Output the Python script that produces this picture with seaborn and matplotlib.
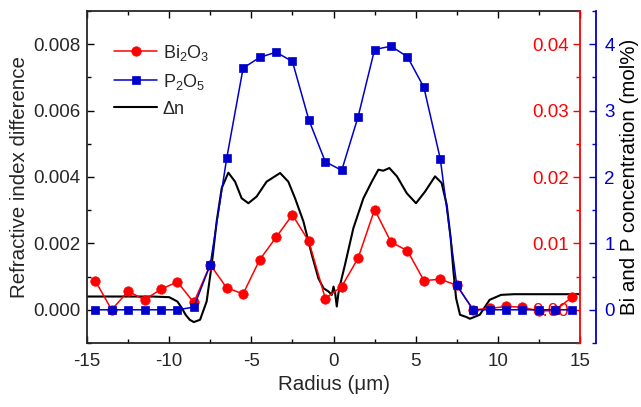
import matplotlib
matplotlib.use("Agg")
import matplotlib.pyplot as plt
from matplotlib.ticker import MultipleLocator, StrMethodFormatter
import seaborn as sns

# ---- data ----
radius_pts = [-14.5, -13.5, -12.5, -11.5, -10.5, -9.5, -8.5, -7.5, -6.5, -5.5,
              -4.5, -3.5, -2.5, -1.5, -0.5, 0.5, 1.5, 2.5, 3.5, 4.5,
              5.5, 6.5, 7.5, 8.5, 9.5, 10.5, 11.5, 12.5, 13.5, 14.5]
bi2o3 = [0.0044, 0.0000, 0.0028, 0.0015, 0.0031, 0.0042, 0.0011, 0.0068, 0.0033, 0.0024,
         0.0075, 0.0109, 0.0143, 0.0103, 0.0017, 0.0035, 0.0078, 0.0151, 0.0102, 0.0089,
         0.0044, 0.0046, 0.0037, 0.0000, 0.0002, 0.0005, 0.0004, -0.0002, -0.0001, 0.0019]
p2o5 = [0.0, 0.0, 0.0, 0.0, 0.0, 0.0, 0.04, 0.68, 2.28, 3.64,
        3.80, 3.88, 3.74, 2.86, 2.23, 2.10, 2.91, 3.92, 3.97, 3.81,
        3.35, 2.27, 0.37, 0.0, 0.0, 0.0, 0.0, 0.0, 0.0, 0.0]

radius_dn = [-15.0, -11.0, -10.0, -9.5, -9.25, -9.0, -8.75, -8.5, -8.12, -7.72,
             -7.41, -7.11, -6.80, -6.40, -5.99, -5.59, -5.18, -4.68, -4.07, -3.25,
             -2.75, -2.34, -1.83, -1.32, -0.92, -0.61, -0.30, -0.10, 0.00, 0.10,
             0.20, 0.30, 0.40, 0.70, 1.21, 1.82, 2.33, 2.73, 3.03, 3.40,
             3.86, 4.46, 5.02, 5.57, 6.18, 6.58, 6.89, 7.13, 7.30, 7.46,
             7.70, 8.10, 8.30, 8.90, 9.50, 10.20, 11.00, 15.00]
delta_n = [0.00040, 0.00040, 0.00038, 0.00025, 0.00007, -0.00015, -0.00030, -0.00037, -0.00030, 0.00025,
           0.00136, 0.00266, 0.00367, 0.00413, 0.00386, 0.00336, 0.00321, 0.00341, 0.00386, 0.00412,
           0.00386, 0.00336, 0.00266, 0.00166, 0.00095, 0.00065, 0.00055, 0.00045, 0.00070, 0.00050,
           0.00010, 0.00050, 0.00075, 0.00136, 0.00246, 0.00336, 0.00386, 0.00422, 0.00419, 0.00427,
           0.00402, 0.00351, 0.00321, 0.00356, 0.00402, 0.00382, 0.00316, 0.00216, 0.00115, 0.00035,
           -0.00015, -0.00022, -0.00027, -0.00015, 0.00030, 0.00045, 0.00047, 0.00047]

x_ticks = [-15, -10, -5, 0, 5, 10, 15]
left_ticks = [0.000, 0.002, 0.004, 0.006, 0.008]
red_ticks = [0.00, 0.01, 0.02, 0.03, 0.04]
blue_ticks = [0, 1, 2, 3, 4]

# ---- style ----
sns.set_style("ticks")
plt.rcParams['font.family'] = ['Liberation Sans', 'DejaVu Sans']
plt.rcParams['mathtext.default'] = 'regular'
plt.rcParams['mathtext.fontset'] = 'custom'
plt.rcParams['mathtext.rm'] = 'Liberation Sans'
plt.rcParams['axes.unicode_minus'] = False

RED = '#FF0000'
BLUE = '#0000CC'
TFS = 13.5   # tick labels
LFS = 14.8   # axis titles

fig = plt.figure(figsize=(6.41, 4.07), dpi=100)
ax = fig.add_axes([87/641, 1 - 343/407, (580-87)/641, (343-11)/407])
ax_red = ax.twinx()
ax_blue = ax.twinx()

sns.lineplot(x=radius_dn, y=delta_n, ax=ax, color='black', lw=1.5,
             label='\u0394n', legend=False, sort=True)
sns.lineplot(x=radius_pts, y=bi2o3, ax=ax_red, color=RED, lw=1.1, marker='o',
             markersize=6.8, markeredgecolor=RED, markeredgewidth=0.5,
             label='Bi$_2$O$_3$', legend=False, sort=True)
sns.lineplot(x=radius_pts, y=p2o5, ax=ax_blue, color=BLUE, lw=1.1, marker='s',
             markersize=5.5, markeredgecolor=BLUE, markeredgewidth=0.5,
             label='P$_2$O$_5$', legend=False, sort=True)

# left axis
ax.set_xlim(-15, 15)
ax.set_ylim(-0.001, 0.009)
ax.set_xticks(x_ticks)
ax.xaxis.set_minor_locator(MultipleLocator(2.5))
ax.set_yticks(left_ticks)
ax.yaxis.set_minor_locator(MultipleLocator(0.001))
ax.yaxis.set_major_formatter(StrMethodFormatter('{x:.3f}'))
ax.tick_params(which='both', direction='in', top=True, right=False, width=1.0,
               labelsize=TFS, color='black')
ax.tick_params(which='major', length=5)
ax.tick_params(which='minor', length=3)
ax.tick_params(axis='y', pad=5)
ax.tick_params(axis='x', pad=7)
ax.spines['right'].set_visible(False)
for s in ['left', 'top', 'bottom']:
    ax.spines[s].set_linewidth(1.3)
ax.set_xlabel('Radius (\u03bcm)', fontsize=LFS, labelpad=4)
ax.set_ylabel('Refractive index difference', fontsize=LFS, labelpad=3)

# red axis (labels inside)
ax_red.set_ylim(-0.005, 0.045)
ax_red.set_yticks(red_ticks)
ax_red.yaxis.set_minor_locator(MultipleLocator(0.005))
ax_red.yaxis.set_major_formatter(StrMethodFormatter('{x:.2f}'))
ax_red.tick_params(axis='y', which='both', direction='in', colors=RED,
                   labelsize=TFS, pad=-8, width=1.0)
ax_red.tick_params(axis='y', which='major', length=5)
ax_red.tick_params(axis='y', which='minor', length=3)
for t in ax_red.yaxis.get_major_ticks():
    t.label2.set_horizontalalignment('right')
for s in ['left', 'top', 'bottom']:
    ax_red.spines[s].set_visible(False)
ax_red.spines['right'].set_color(RED)
ax_red.spines['right'].set_linewidth(1.3)
ax_red.set_ylabel('')

# blue axis (offset outward)
ax_blue.spines['right'].set_position(('outward', 11.5))
ax_blue.set_ylim(-0.5, 4.5)
ax_blue.set_yticks(blue_ticks)
ax_blue.yaxis.set_minor_locator(MultipleLocator(0.5))
ax_blue.yaxis.set_major_formatter(StrMethodFormatter('{x:.0f}'))
ax_blue.tick_params(axis='y', which='both', direction='in', colors=BLUE,
                    labelsize=TFS, pad=6, width=1.0)
ax_blue.tick_params(axis='y', which='major', length=5)
ax_blue.tick_params(axis='y', which='minor', length=3)
for s in ['left', 'top', 'bottom']:
    ax_blue.spines[s].set_visible(False)
ax_blue.spines['right'].set_color(BLUE)
ax_blue.spines['right'].set_linewidth(1.3)
ax_blue.set_ylabel('Bi and P concentration (mol%)', fontsize=LFS, color='black',
                   labelpad=4)

# legend
h1, l1 = ax_red.get_legend_handles_labels()
h2, l2 = ax_blue.get_legend_handles_labels()
h3, l3 = ax.get_legend_handles_labels()
leg = ax_blue.legend(h1 + h2 + h3, l1 + l2 + l3, loc='upper left',
                     bbox_to_anchor=(0.055, 0.905), frameon=False, fontsize=13,
                     handlelength=2.4, handletextpad=0.3, labelspacing=0.5,
                     borderpad=0, borderaxespad=0)

fig.savefig('out.png', dpi=100)
